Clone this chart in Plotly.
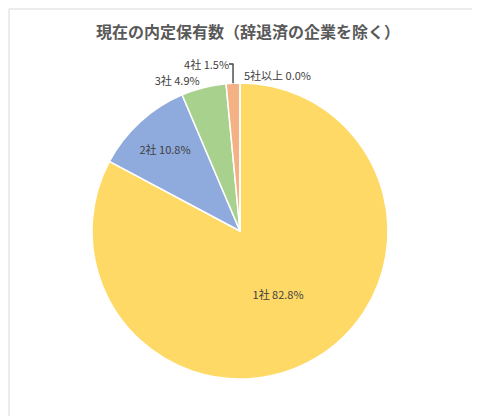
import plotly.graph_objects as go

labels = ["1社", "2社", "3社", "4社", "5社以上"]
values = [82.8, 10.8, 4.9, 1.5, 0.0]
colors = ["#FFD966", "#8FAADC", "#A9D18E", "#F4B183", "#C9C9C9"]
pct_text = [f"{v:.1f}%" for v in values]
positions = ["inside", "inside", "outside", "outside", "outside"]

L, R, T, B = 84, 100, 75, 45
W = 480 - L - R
H = 416 - T - B

fig = go.Figure(go.Pie(
    labels=labels, values=values, sort=False, direction="clockwise", rotation=0,
    marker=dict(colors=colors, line=dict(color="white", width=1.5)),
    customdata=pct_text, texttemplate="%{label} %{customdata}",
    textposition=positions, insidetextorientation="horizontal",
    textfont=dict(family="Noto Sans CJK JP", size=11, color="#404040"),
    outsidetextfont=dict(family="Noto Sans CJK JP", size=11, color="#404040"),
    showlegend=False, hoverinfo="skip",
))
fig.update_layout(
    width=480, height=416, paper_bgcolor="white",
    margin=dict(l=L, r=R, t=T, b=B, autoexpand=False),
    title=dict(text="<b>現在の内定保有数（辞退済の企業を除く）</b>", x=0.5, y=0.955,
               xanchor="center", font=dict(family="Noto Sans CJK JP", size=16, color="#595959")),
    shapes=[dict(type="rect", xref="paper", yref="paper",
                 x0=-(L - 1) / W, y0=-(B - 1) / H, x1=1 + (R - 1) / W, y1=1 + (T - 1) / H,
                 line=dict(color="#D9D9D9", width=1))],
)
fig.write_html("out.html")
